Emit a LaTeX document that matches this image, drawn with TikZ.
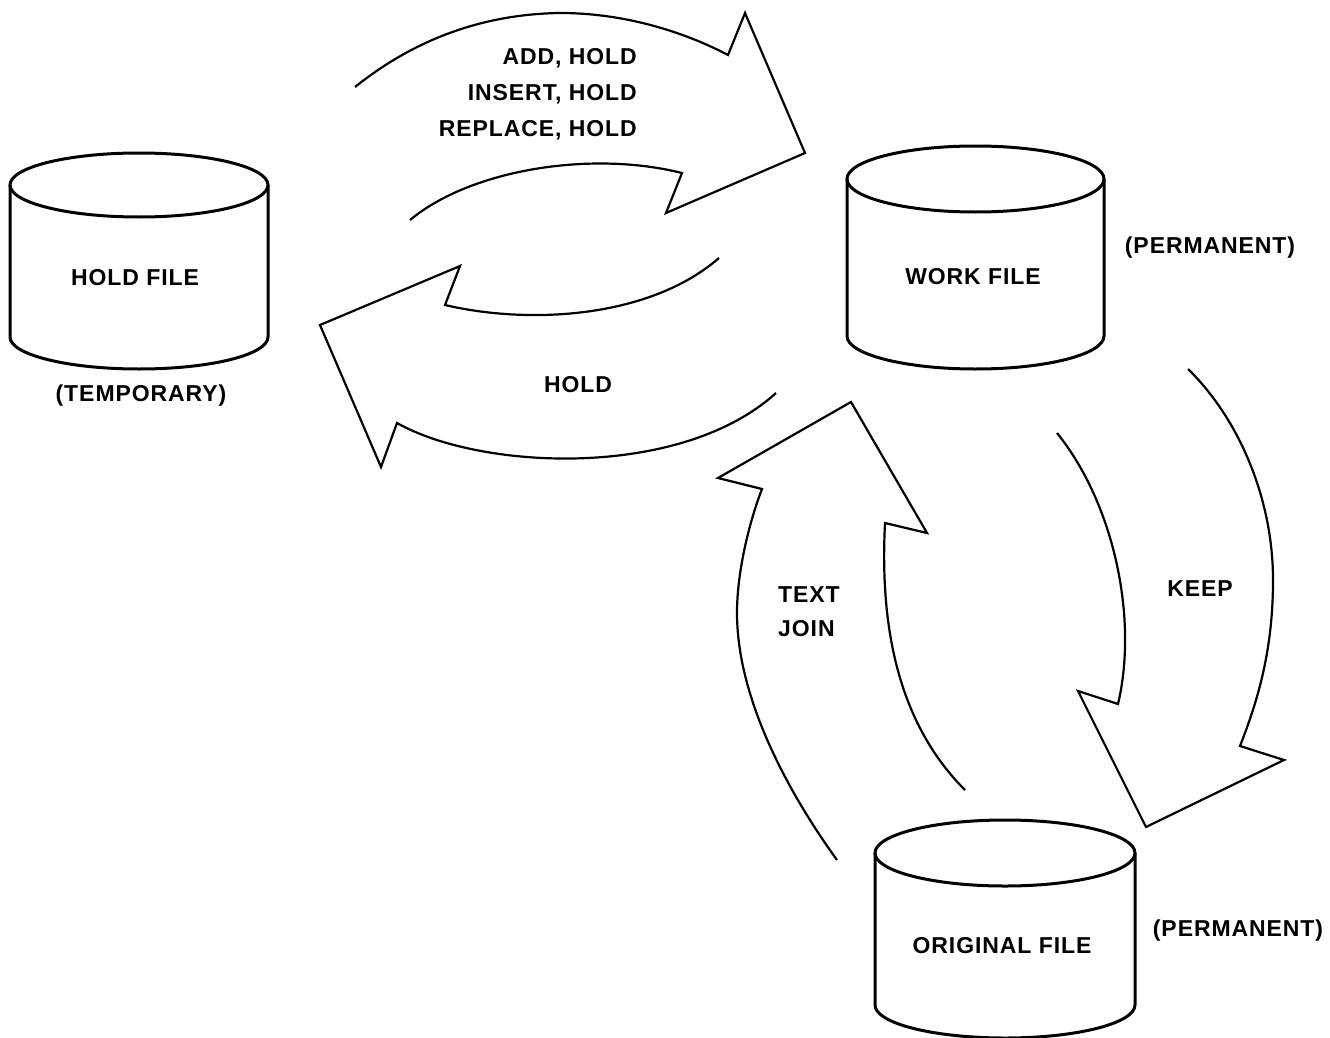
\documentclass[tikz,border=0pt]{standalone}
\usepackage{fontspec}
\newfontfamily\lbfont{Liberation Sans}[LetterSpace=4]
\newcommand\dbcyl[5]{%
  \draw[cyl] (#1,#2) ellipse [x radius=#4, y radius=#5];
  \draw[cyl] ({#1-#4},#2) -- ({#1-#4},#3)
    .. controls ({#1-#4},{#3+0.5523*#5}) and ({#1-0.5523*#4},{#3+#5}) .. (#1,{#3+#5})
    .. controls ({#1+0.5523*#4},{#3+#5}) and ({#1+#4},{#3+0.5523*#5}) .. ({#1+#4},#3)
    -- ({#1+#4},#2);
}
\begin{document}
\begin{tikzpicture}[x=1pt,y=-1pt,
  cyl/.style={line width=3pt},
  barrow/.style={line width=2.2pt, line join=miter},
  lbl/.style={font=\lbfont\bfseries\fontsize{23}{27}\selectfont, inner sep=0pt, anchor=base}]

% cylinders
\dbcyl{139}{185}{337}{129}{32}
\dbcyl{975.5}{179}{336}{128.5}{33}
\dbcyl{1005}{853}{1005}{130}{33}

% labels
\node[lbl] (holdf) at (135,285) {HOLD FILE};
\node[lbl] (temp) at (141,401) {(TEMPORARY)};
\node[lbl] (workf) at (973,284) {WORK FILE};
\node[lbl] (perm1) at (1210,253) {(PERMANENT)};
\node[lbl] (origf) at (1002,953) {ORIGINAL FILE};
\node[lbl] (perm2) at (1238,936) {(PERMANENT)};
\node[lbl, anchor=base east] (add) at (637,65) {ADD, HOLD};
\node[lbl, anchor=base east] (ins) at (637,101) {INSERT, HOLD};
\node[lbl, anchor=base east] (rep) at (637,136) {REPLACE, HOLD};
\node[lbl] (hold) at (578,392) {HOLD};
\node[lbl, anchor=base west] (text) at (778,602) {TEXT};
\node[lbl, anchor=base west] (join) at (778,636) {JOIN};
\node[lbl] (keep) at (1200,596) {KEEP};

% arrow: hold file -> work file
\draw[barrow] (355,87) .. controls (420,35) and (490,14) .. (560,13)
  .. controls (630,13) and (690,35) .. (728,55)
  -- (745,13) -- (805,153) -- (666,213) -- (682,173)
  .. controls (590,150) and (470,170) .. (410,220);

% arrow: work file -> hold file
\draw[barrow] (719,258) .. controls (650,318) and (530,325) .. (445,305)
  -- (460,266) -- (320,325) -- (381,467) -- (397,423)
  .. controls (480,470) and (680,480) .. (776,393);

% arrow: original file -> work file
\draw[barrow] (837,860) .. controls (790,795) and (737,700) .. (737,613)
  .. controls (737,570) and (750,520) .. (762,489)
  -- (718,478) -- (851,402) -- (927,533) -- (885,523)
  .. controls (880,620) and (895,720) .. (965,790);

% arrow: work file -> original file
\draw[barrow] (1057,433) .. controls (1115,505) and (1138,620) .. (1118,704)
  -- (1078,691) -- (1146,827) -- (1284,760) -- (1240,746)
  .. controls (1258,700) and (1273,650) .. (1273,580)
  .. controls (1273,500) and (1240,420) .. (1188,369);

\pgfresetboundingbox
\useasboundingbox (0,0) rectangle (1330,1038);
\end{tikzpicture}
\end{document}
